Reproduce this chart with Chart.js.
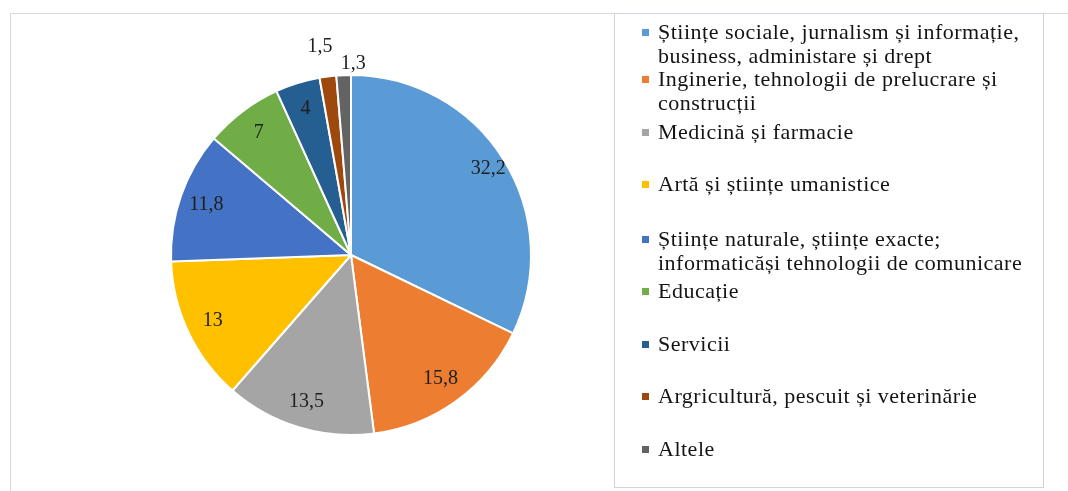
<!DOCTYPE html>
<html>
<head>
<meta charset="utf-8">
<script src="https://cdn.jsdelivr.net/npm/chart.js@4/dist/chart.umd.min.js"></script>
<style>
  html, body { margin: 0; padding: 0; background: #fff; }
  #wrap { position: relative; width: 1068px; height: 491px; overflow: hidden; }
  #frame { position: absolute; left: 10px; top: 13px; width: 1100px; height: 520px; border: 1px solid #d9d9d9; }
  #legendBox { position: absolute; left: 614px; top: 13px; width: 428px; height: 473px; border: 1px solid #cdd4de; }
  canvas { position: absolute; left: 0; top: 0; }
</style>
</head>
<body>
<div id="wrap">
  <div id="frame"></div>
  <div id="legendBox"></div>
  <canvas id="pie" width="1068" height="491"></canvas>
</div>
<script>
const categories = [
  ['Științe sociale, jurnalism și informație,', 'business, administare și drept'],
  ['Inginerie, tehnologii de prelucrare și', 'construcții'],
  ['Medicină și farmacie'],
  ['Artă și științe umanistice'],
  ['Științe naturale, științe exacte;', 'informaticăși tehnologii de comunicare'],
  ['Educație'],
  ['Servicii'],
  ['Argricultură, pescuit și veterinărie'],
  ['Altele']
];
const shares = [32.2, 15.8, 13.5, 13, 11.8, 7, 4, 1.5, 1.3];
const shareLabels = ['32,2', '15,8', '13,5', '13', '11,8', '7', '4', '1,5', '1,3'];
const colors = ['#5B9BD5', '#ED7D31', '#A5A5A5', '#FFC000', '#4472C4', '#70AD47', '#255E91', '#9E480E', '#636363'];

// legend layout (first-line centre of each entry)
const legendRowY = [33, 80, 133, 185, 240, 292, 345, 397, 450];
const serif = '"Liberation Serif", "DejaVu Serif", serif';

const valueLabels = {
  id: 'valueLabels',
  afterDatasetsDraw(chart) {
    const ctx = chart.ctx;
    const arcs = chart.getDatasetMeta(0).data;
    ctx.save();
    ctx.font = '20px ' + serif;
    ctx.fillStyle = '#1e1e1e';
    ctx.textAlign = 'center';
    ctx.textBaseline = 'middle';
    let outside = 0;
    arcs.forEach((arc, i) => {
      const { x, y, startAngle, endAngle, outerRadius } = arc.getProps(['x', 'y', 'startAngle', 'endAngle', 'outerRadius'], true);
      const mid = (startAngle + endAngle) / 2;
      let dist;
      let shift = 0;
      if (shares[i] < 2) {
        // small slices: labels outside, staggered
        dist = outerRadius + (outside % 2 === 0 ? 30 : 11);
        shift = outside % 2 === 0 ? -4 : 10;
        outside++;
      } else {
        dist = outerRadius * (shares[i] > 30 ? 0.9 : 0.85);
      }
      ctx.fillText(shareLabels[i], x + Math.cos(mid) * dist + shift, y + Math.sin(mid) * dist);
    });
    ctx.restore();
  }
};

const sideLegend = {
  id: 'sideLegend',
  afterDraw(chart) {
    const ctx = chart.ctx;
    ctx.save();
    ctx.font = '22px ' + serif;
    ctx.letterSpacing = '0.5px';
    ctx.textBaseline = 'middle';
    categories.forEach((lines, i) => {
      const y0 = legendRowY[i];
      ctx.fillStyle = colors[i];
      ctx.fillRect(642, y0 - 4, 7, 7);
      ctx.fillStyle = '#141414';
      lines.forEach((line, k) => {
        ctx.fillText(line, 658, y0 + k * 24);
      });
    });
    ctx.restore();
  }
};

new Chart(document.getElementById('pie'), {
  type: 'pie',
  data: {
    labels: categories,
    datasets: [{
      data: shares,
      backgroundColor: colors,
      borderColor: '#ffffff',
      borderWidth: 2
    }]
  },
  options: {
    responsive: false,
    animation: false,
    layout: { padding: { left: 170, right: 536, top: 74, bottom: 55 } },
    plugins: {
      legend: { display: false },
      tooltip: { enabled: false }
    }
  },
  plugins: [valueLabels, sideLegend]
});
</script>
</body>
</html>
